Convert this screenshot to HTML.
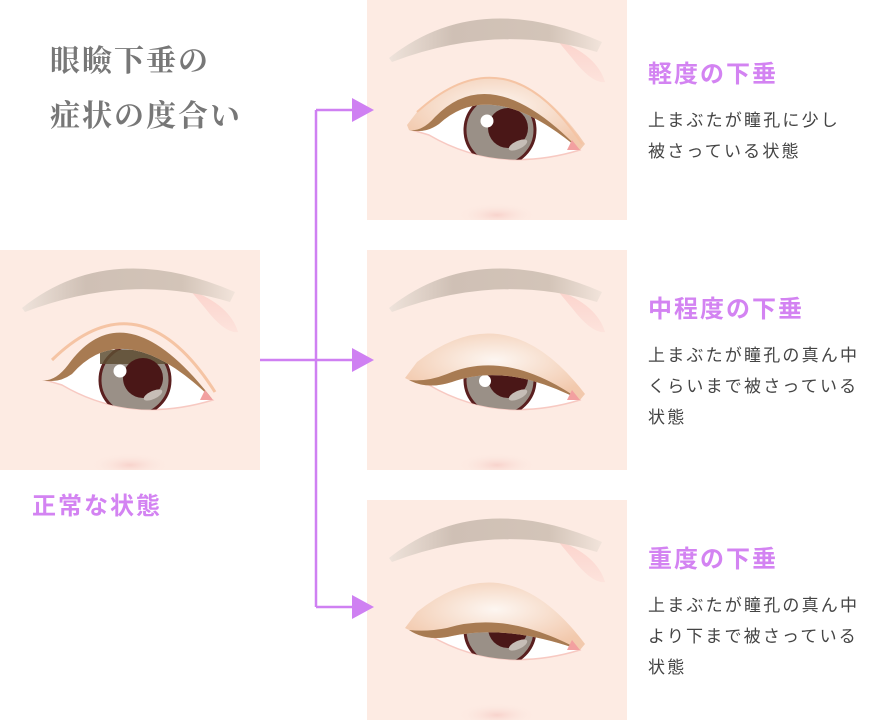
<!DOCTYPE html>
<html><head><meta charset="utf-8"><style>
body{margin:0;width:880px;height:720px;background:#fff;position:relative;overflow:hidden;font-family:"Liberation Sans","Noto Sans CJK JP",sans-serif}
.p{position:absolute;width:260px;height:220px;background:#fdebe3}
.t{position:absolute;font-family:"Liberation Serif","Noto Serif CJK SC",serif;font-weight:bold;color:#777;font-size:30px;left:50px;letter-spacing:2px}
.h{position:absolute;color:#d383f2;font-weight:bold;font-size:24px;letter-spacing:2px}
.b{position:absolute;color:#444;font-size:17px;line-height:31px;left:648px;letter-spacing:2.2px;white-space:nowrap}
svg{position:absolute;left:0;top:0}
</style></head><body>
<svg width="0" height="0" style="position:absolute">
<defs>
<linearGradient id="br" x1="0" x2="1"><stop offset="0" stop-color="#efe3db"/><stop offset=".3" stop-color="#cfc0b5"/><stop offset=".75" stop-color="#d3c4b8"/><stop offset="1" stop-color="#f2e4db"/></linearGradient>
<radialGradient id="lid" cx=".5" cy=".4" r=".6"><stop offset="0" stop-color="#fdf6f1"/><stop offset="1" stop-color="#f2c9ad"/></radialGradient>
<radialGradient id="bl" cx=".5" cy=".5" r=".5"><stop offset="0" stop-color="#f8d3cc"/><stop offset="1" stop-color="#fdebe3" stop-opacity="0"/></radialGradient>
<linearGradient id="pk" x1="0" y1="0" x2="0" y2="1"><stop offset="0" stop-color="#fbd3cc"/><stop offset="1" stop-color="#fde3dc"/></linearGradient>
<clipPath id="ey"><path d="M45,130 Q125,50 213,150 Q130,175 62,135 Z"/></clipPath>
<g id="brow"><path d="M190,40 Q230,55 238,82 Q225,84 205,58 Z" fill="url(#pk)"/><path d="M22,58 Q110,-12 235,42 L230,52 Q130,22 25,62 Z" fill="url(#br)"/><ellipse cx="130" cy="215" rx="40" ry="12" fill="url(#bl)"/><path d="M45,130 Q125,50 213,150 Q130,175 62,135 Z" fill="#fff" stroke="#f7c9c2" stroke-width="1.5"/></g>
</defs></svg>

<div class="t" style="top:36px">眼瞼下垂の</div>
<div class="t" style="top:91px">症状の度合い</div>

<div class="p" style="left:0;top:250px"><svg width="260" height="220">
<use href="#brow"/>
<g clip-path="url(#ey)"><circle cx="135" cy="130" r="35" fill="#9a9087" stroke="#5a1f1f" stroke-width="3"/><path d="M100,100 L172,100 L172,114 L100,114 Z" fill="#5e4e32" opacity=".85"/><circle cx="143" cy="128" r="20" fill="#4a1717"/><ellipse cx="153" cy="145" rx="10" ry="4" transform="rotate(-25 153 145)" fill="#c7beb7"/><circle cx="120" cy="121" r="6.5" fill="#fff"/></g>
<path d="M40,125 L50,108 Q140,20 218,142 L213,150 Q125,63 72,124 Q58,134 42,130 Z" fill="#fdebe3"/>
<path d="M52,110 Q140,24 215,142" fill="none" stroke="#f5c4a4" stroke-width="3"/>
<path d="M42,130 Q55,132 68,115 Q125,36 213,150 Q125,63 72,124 Q58,134 42,130 Z" fill="#a87b52"/>
<path d="M205,140 L213,150 L200,150 Z" fill="#f2a0a0"/>
</svg></div>

<div class="p" style="left:367px;top:0"><svg width="260" height="220">
<use href="#brow"/>
<g clip-path="url(#ey)"><circle cx="133" cy="130" r="35" fill="#9a9087" stroke="#5a1f1f" stroke-width="3"/><circle cx="141" cy="128" r="20" fill="#4a1717"/><ellipse cx="151" cy="145" rx="10" ry="4" transform="rotate(-25 151 145)" fill="#c7beb7"/><circle cx="120" cy="121" r="6.5" fill="#fff"/></g>
<path d="M40,125 L50,112 Q140,30 218,144 L213,150 Q125,75 72,124 Q58,134 42,130 Z" fill="url(#lid)"/>
<path d="M50,112 Q140,30 215,144" fill="none" stroke="#f5c4a4" stroke-width="2"/>
<path d="M42,130 Q55,132 68,117 Q125,58 213,150 Q125,75 72,124 Q58,134 42,130 Z" fill="#a87b52"/>
<path d="M205,140 L213,150 L200,150 Z" fill="#f2a0a0"/>
</svg></div>

<div class="p" style="left:367px;top:250px"><svg width="260" height="220">
<use href="#brow"/>
<g clip-path="url(#ey)"><circle cx="133" cy="130" r="35" fill="#9a9087" stroke="#5a1f1f" stroke-width="3"/><circle cx="141" cy="128" r="20" fill="#4a1717"/><ellipse cx="151" cy="145" rx="10" ry="4" transform="rotate(-25 151 145)" fill="#c7beb7"/><circle cx="118" cy="131" r="6" fill="#fff"/></g>
<path d="M38,128 L50,112 Q140,42 218,144 L213,150 Q140,112 85,132 Q60,140 42,130 Z" fill="url(#lid)"/>
<path d="M42,130 Q60,132 80,124 Q140,98 213,150 Q140,112 85,132 Q60,140 42,130 Z" fill="#a87b52"/>
<path d="M205,140 L213,150 L200,150 Z" fill="#f2a0a0"/>
</svg></div>

<div class="p" style="left:367px;top:500px"><svg width="260" height="220">
<use href="#brow"/>
<g clip-path="url(#ey)"><circle cx="133" cy="130" r="35" fill="#9a9087" stroke="#5a1f1f" stroke-width="3"/><circle cx="141" cy="128" r="20" fill="#4a1717"/><ellipse cx="151" cy="145" rx="10" ry="4" transform="rotate(-25 151 145)" fill="#c7beb7"/></g>
<path d="M38,128 L50,112 Q140,40 218,144 L213,150 Q140,124 85,136 Q60,142 42,130 Z" fill="url(#lid)"/>
<path d="M42,130 Q60,132 80,128 Q140,110 213,150 Q140,124 85,136 Q60,142 42,130 Z" fill="#a87b52"/>
<path d="M205,140 L213,150 L200,150 Z" fill="#f2a0a0"/>
</svg></div>

<svg width="880" height="720" style="pointer-events:none">
<g stroke="#cf80f2" stroke-width="2.5" fill="none">
<path d="M260,360 L355,360"/><path d="M316,110 L316,607"/><path d="M316,110 L355,110"/><path d="M316,607 L355,607"/>
</g>
<g fill="#cf80f2"><path d="M352,98 L374,110 L352,122 Z"/><path d="M352,348 L374,360 L352,372 Z"/><path d="M352,595 L374,607 L352,619 Z"/></g>
</svg>

<div class="h" style="left:32px;top:486px">正常な状態</div>
<div class="h" style="left:648px;top:54px">軽度の下垂</div>
<div class="b" style="top:105px">上まぶたが瞳孔に少し<br>被さっている状態</div>
<div class="h" style="left:648px;top:289px">中程度の下垂</div>
<div class="b" style="top:340px">上まぶたが瞳孔の真ん中<br>くらいまで被さっている<br>状態</div>
<div class="h" style="left:648px;top:539px">重度の下垂</div>
<div class="b" style="top:590px">上まぶたが瞳孔の真ん中<br>より下まで被さっている<br>状態</div>
</body></html>
